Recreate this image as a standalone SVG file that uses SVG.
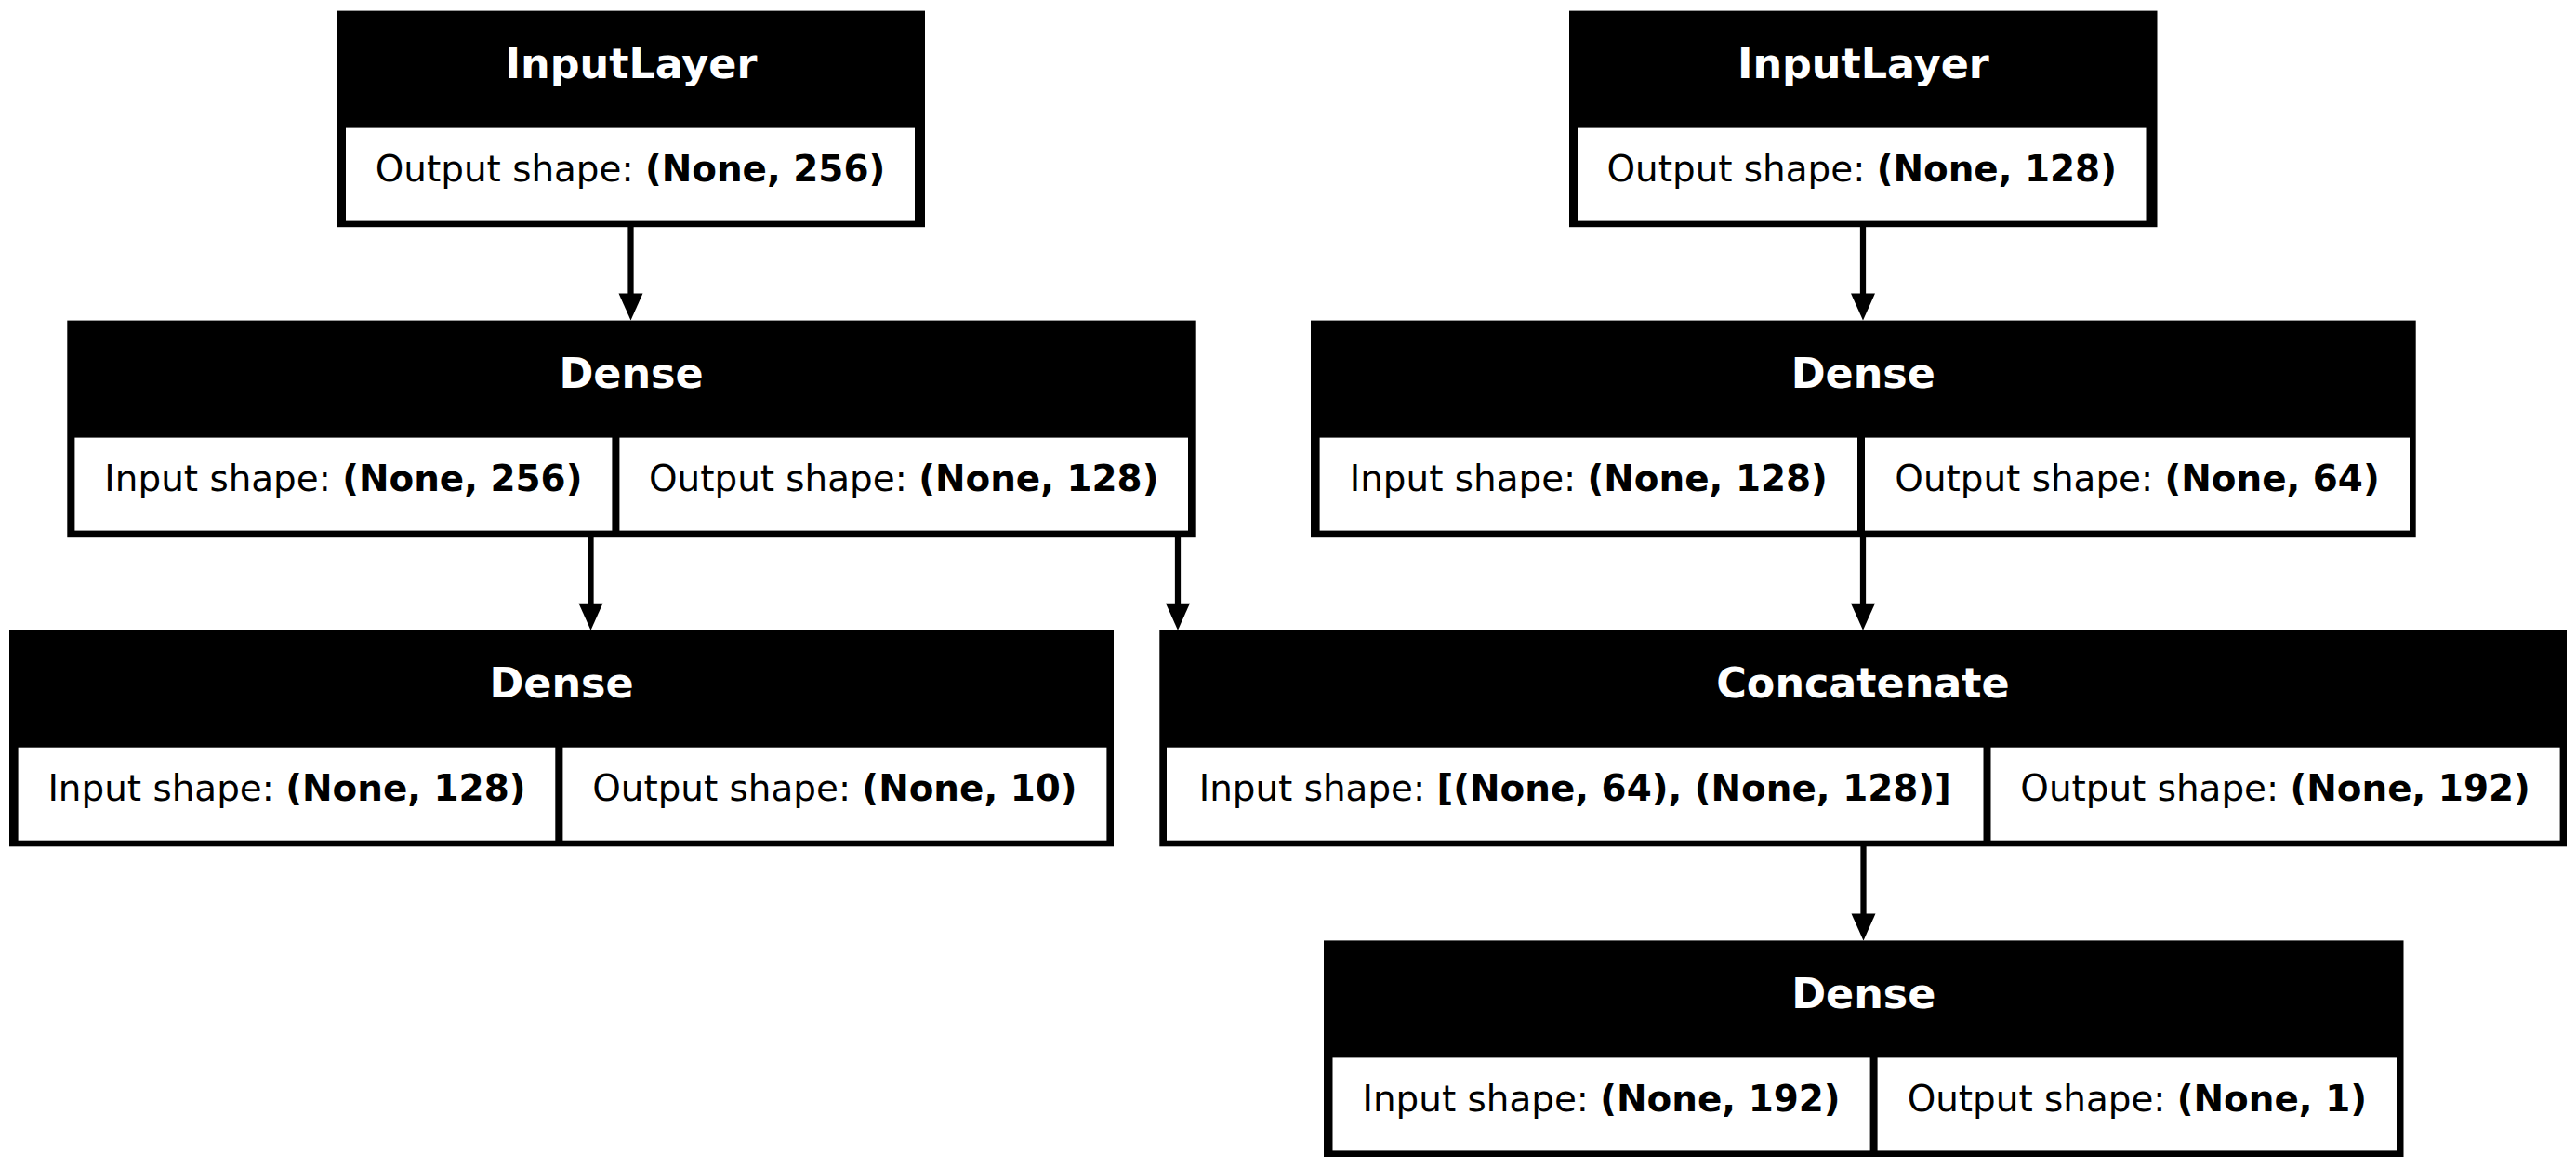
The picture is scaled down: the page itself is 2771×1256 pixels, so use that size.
<svg xmlns="http://www.w3.org/2000/svg" width="2771" height="1256" viewBox="0 0 2771 1256">
<defs>
<style>
.frame{fill:#000}
.cell{fill:#fff}
.title{font-family:"DejaVu Sans",sans-serif;font-weight:bold;font-size:44.44px;fill:#fff;text-anchor:middle}
.body{font-family:"DejaVu Sans",sans-serif;font-size:38.89px;fill:#000;text-anchor:middle}
.b{font-weight:bold}
.edge{stroke:#000;stroke-width:6.25;fill:none}
.head{fill:#000;stroke:none}
</style>
</defs>
<rect x="0" y="0" width="2771" height="1256" fill="#fff"/>
<g id="connectors">
<line class="edge" x1="678.5" y1="244" x2="678.5" y2="318"/>
<polygon class="head" points="665.5,315.6 691.5,315.6 678.5,344.6"/>
<line class="edge" x1="2004" y1="244" x2="2004" y2="318"/>
<polygon class="head" points="1991,315.6 2017,315.6 2004,344.6"/>
<line class="edge" x1="635.5" y1="577" x2="635.5" y2="651"/>
<polygon class="head" points="622.5,648.7 648.5,648.7 635.5,677.7"/>
<line class="edge" x1="1267" y1="577" x2="1267" y2="651"/>
<polygon class="head" points="1254,648.7 1280,648.7 1267,677.7"/>
<line class="edge" x1="2004" y1="577" x2="2004" y2="651"/>
<polygon class="head" points="1991,648.7 2017,648.7 2004,677.7"/>
<line class="edge" x1="2004.5" y1="910" x2="2004.5" y2="985"/>
<polygon class="head" points="1991.5,982.4 2017.5,982.4 2004.5,1011.4"/>
</g>
<g id="input_left">
<rect class="frame" x="362.9" y="11.6" width="632.1" height="232.6"/>
<rect class="cell" x="372" y="137.6" width="612" height="100"/>
<text class="title" x="679" y="84">InputLayer</text>
<text class="body" x="678" y="195.3">Output shape: <tspan class="b">(None, 256)</tspan></text>
</g>
<g id="input_right">
<rect class="frame" x="1688" y="11.6" width="632.5" height="232.6"/>
<rect class="cell" x="1697" y="137.6" width="611.5" height="100"/>
<text class="title" x="2004.3" y="84">InputLayer</text>
<text class="body" x="2002.7" y="195.3">Output shape: <tspan class="b">(None, 128)</tspan></text>
</g>
<g id="dense_1">
<rect class="frame" x="72.3" y="344.6" width="1213.4" height="232.6"/>
<rect class="cell" x="80.4" y="470.6" width="578" height="100"/>
<rect class="cell" x="666.4" y="470.6" width="611.6" height="100"/>
<text class="title" x="679" y="417">Dense</text>
<text class="body" x="369.4" y="528.3">Input shape: <tspan class="b">(None, 256)</tspan></text>
<text class="body" x="972.2" y="528.3">Output shape: <tspan class="b">(None, 128)</tspan></text>
</g>
<g id="dense_right">
<rect class="frame" x="1410" y="344.6" width="1188.7" height="232.6"/>
<rect class="cell" x="1419.6" y="470.6" width="578.4" height="100"/>
<rect class="cell" x="2006" y="470.6" width="586" height="100"/>
<text class="title" x="2004.3" y="417">Dense</text>
<text class="body" x="1708.8" y="528.3">Input shape: <tspan class="b">(None, 128)</tspan></text>
<text class="body" x="2299" y="528.3">Output shape: <tspan class="b">(None, 64)</tspan></text>
</g>
<g id="dense_2">
<rect class="frame" x="10" y="677.7" width="1188" height="232.6"/>
<rect class="cell" x="19.6" y="803.7" width="577.7" height="100"/>
<rect class="cell" x="605.4" y="803.7" width="585" height="100"/>
<text class="title" x="604" y="750.1">Dense</text>
<text class="body" x="308.45" y="861.4">Input shape: <tspan class="b">(None, 128)</tspan></text>
<text class="body" x="897.9" y="861.4">Output shape: <tspan class="b">(None, 10)</tspan></text>
</g>
<g id="concatenate">
<rect class="frame" x="1247.3" y="677.7" width="1513.7" height="232.6"/>
<rect class="cell" x="1255" y="803.7" width="878.5" height="100"/>
<rect class="cell" x="2141.5" y="803.7" width="612.1" height="100"/>
<text class="title" x="2004" y="750.1">Concatenate</text>
<text class="body" x="1694.25" y="861.4">Input shape: <tspan class="b">[(None, 64), (None, 128)]</tspan></text>
<text class="body" x="2447.55" y="861.4">Output shape: <tspan class="b">(None, 192)</tspan></text>
</g>
<g id="dense_out">
<rect class="frame" x="1424" y="1011.4" width="1161.5" height="232.6"/>
<rect class="cell" x="1433.5" y="1137.4" width="578.1" height="100"/>
<rect class="cell" x="2019.6" y="1137.4" width="558.4" height="100"/>
<text class="title" x="2004.75" y="1083.8">Dense</text>
<text class="body" x="1722.55" y="1195.1">Input shape: <tspan class="b">(None, 192)</tspan></text>
<text class="body" x="2298.8" y="1195.1">Output shape: <tspan class="b">(None, 1)</tspan></text>
</g>
</svg>
